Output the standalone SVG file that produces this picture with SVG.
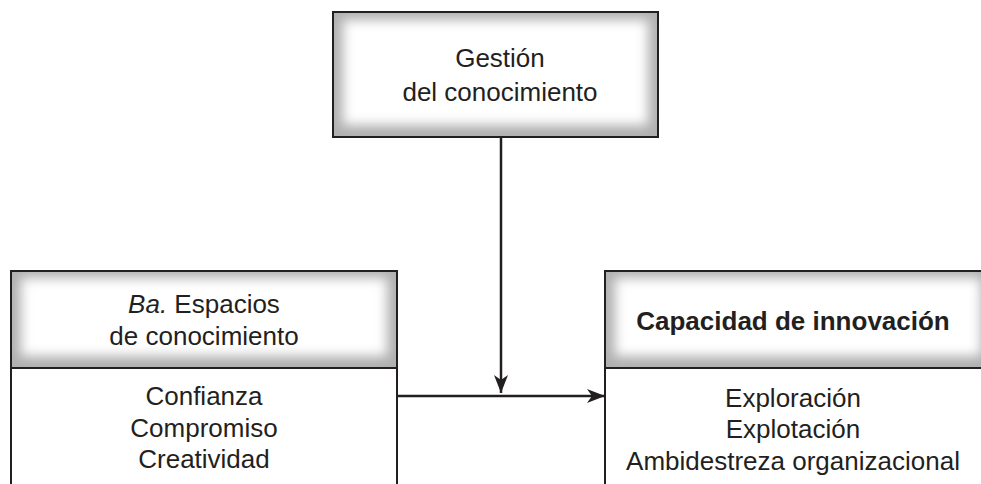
<svg xmlns="http://www.w3.org/2000/svg" width="981" height="484" viewBox="0 0 981 484">
<style>
.t{font-family:"Liberation Sans",Arial,sans-serif;font-size:26px;fill:#231f20;text-anchor:middle}
.b{font-weight:bold;font-size:26px}
.edge{stroke:#231f20;stroke-width:2.5;fill:none}
.frame{stroke:#231f20;stroke-width:2;fill:none}
</style>
<defs>
<filter id="blur" x="-20%" y="-20%" width="140%" height="140%"><feGaussianBlur stdDeviation="6"/></filter>
<marker id="arr" viewBox="0 0 18 14" refX="18" refY="7" markerWidth="18" markerHeight="14" markerUnits="userSpaceOnUse" orient="auto"><path d="M0,0 L18,7 L0,14 L5,7 Z" fill="#231f20"/></marker>
<clipPath id="c1"><rect x="333" y="12" width="325" height="125"/></clipPath>
<clipPath id="c2"><rect x="11" y="271" width="386" height="97"/></clipPath>
<clipPath id="c3"><rect x="605" y="271" width="376" height="97"/></clipPath>
</defs>
<g id="connectors">
<line class="edge" x1="501" y1="137" x2="501" y2="393" marker-end="url(#arr)"/>
<line class="edge" x1="397" y1="396" x2="605" y2="396" marker-end="url(#arr)"/>
</g>
<g id="gestion">
<g clip-path="url(#c1)">
<rect x="333" y="12" width="325" height="125" fill="#b0b0b0"/>
<rect x="343" y="20" width="305" height="105" fill="#ffffff" filter="url(#blur)"/>
</g>
<rect class="frame" x="333" y="12" width="325" height="125"/>
<text class="t" x="500" y="67">Gestión</text>
<text class="t" x="500" y="101">del conocimiento</text>
</g>
<g id="ba">
<g clip-path="url(#c2)">
<rect x="11" y="271" width="386" height="97" fill="#b0b0b0"/>
<rect x="21" y="278" width="366" height="78" fill="#ffffff" filter="url(#blur)"/>
</g>
<path class="frame" d="M11,490 V271 H397 V490 M11,368 H397"/>
<text class="t" x="204" y="313"><tspan font-style="italic">Ba.</tspan> Espacios</text>
<text class="t" x="204" y="345">de conocimiento</text>
<text class="t" x="204" y="405">Confianza</text>
<text class="t" x="204" y="437">Compromiso</text>
<text class="t" x="204" y="468">Creatividad</text>
</g>
<g id="capacidad">
<g clip-path="url(#c3)">
<rect x="605" y="271" width="376" height="97" fill="#b0b0b0"/>
<rect x="615" y="278" width="366" height="78" fill="#ffffff" filter="url(#blur)"/>
</g>
<path class="frame" d="M605,490 V271 H990 M605,368 H990"/>
<text class="t b" x="793" y="330">Capacidad de innovación</text>
<text class="t" x="793" y="407">Exploración</text>
<text class="t" x="793" y="438">Explotación</text>
<text class="t" x="793" y="470">Ambidestreza organizacional</text>
</g>
</svg>
